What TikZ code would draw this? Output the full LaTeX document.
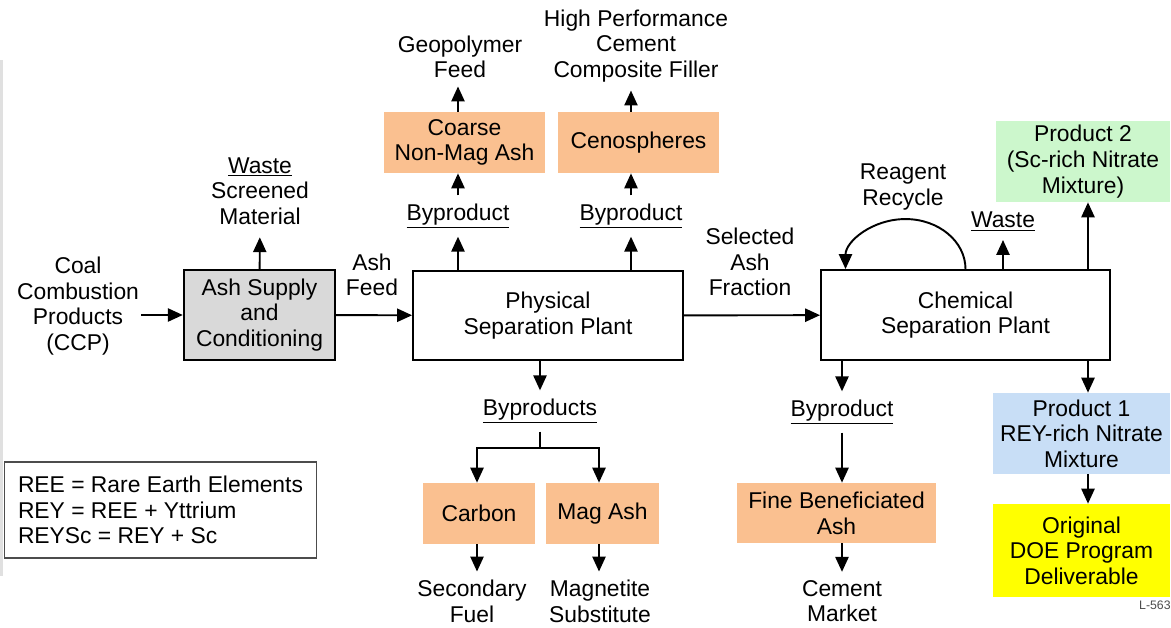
\documentclass[tikz,border=0pt]{standalone}
\usepackage{fontspec}
\setmainfont{Liberation Sans}
\usepackage{xcolor}
\usepackage{tikz}
\usetikzlibrary{positioning,arrows.meta}
\definecolor{ashgray}{HTML}{D9D9D9}
\definecolor{byorange}{HTML}{FAC090}
\definecolor{prodgreen}{HTML}{CCF7CC}
\definecolor{prodblue}{HTML}{C8DEF6}
\definecolor{delivyellow}{HTML}{FFFF00}

\begin{document}
\begin{tikzpicture}[x=0.02cm, y=-0.02cm,
    font=\fontsize{13}{14.6}\selectfont,
    plant/.style={rectangle, draw, line width=1.1pt, align=center, inner sep=0pt},
    ashbox/.style={plant, fill=ashgray, line width=1.4pt},
    byprod/.style={rectangle, fill=byorange, align=center, inner sep=0pt},
    prodtwo/.style={rectangle, fill=prodgreen, align=center, inner sep=0pt},
    prodone/.style={rectangle, fill=prodblue, align=center, inner sep=0pt},
    deliv/.style={rectangle, fill=delivyellow, align=center, inner sep=0pt},
    lbl/.style={align=center, inner xsep=1pt, inner ysep=4.5pt},
    legend/.style={rectangle, draw=black!70, line width=0.6pt, align=left, minimum width=6.26cm, minimum height=1.92cm},
    arrow/.style={line width=1.1pt, ->, >={Triangle[length=8.5pt,width=7.5pt]}}
]
\useasboundingbox (0,0) rectangle (1171,627);

% slide shadow at the left edge
\fill[black!12] (0,60) rectangle (3,576);

% Feed and ash supply
\node [lbl] (ccp) at (78,306) {Coal\\Combustion\\Products\\(CCP)};
\node [ashbox, minimum width=3.02cm, minimum height=1.8cm] (ash) at (259.5,315) {Ash Supply\\and\\Conditioning};
\node [lbl, inner ysep=7pt] (screened) at (260,191) {\underline{Waste}\\Screened\\Material};
\node [lbl] (ashfeed) at (372,275) {Ash\\Feed};

% Physical separation
\node [plant, minimum width=5.4cm, minimum height=1.78cm] (phys) at (548,315.5) {Physical\\Separation Plant};
\node [lbl] (bypa) at (458,216) {\underline{Byproduct}};
\node [lbl] (bypb) at (631,216) {\underline{Byproduct}};
\node [byprod, minimum width=3.22cm, minimum height=1.22cm] (coarse) at (464.5,142.5) {Coarse\\Non-Mag Ash};
\node [byprod, minimum width=3.22cm, minimum height=1.22cm] (ceno) at (638.5,142.5) {Cenospheres};
\node [lbl] (geo) at (460,57) {Geopolymer\\Feed};
\node [lbl] (hpc) at (636,46) {High Performance\\Cement\\Composite Filler};

\node [lbl] (byps) at (540,411) {\underline{Byproducts}};
\coordinate (split) at (540,448);
\node [byprod, minimum width=2.24cm, minimum height=1.22cm] (carbon) at (479,513.5) {Carbon};
\node [byprod, minimum width=2.26cm, minimum height=1.22cm] (magash) at (602.5,513.5) {Mag Ash};
\node [lbl] (secfuel) at (472,601) {Secondary\\Fuel};
\node [lbl] (magsub) at (600,601) {Magnetite\\Substitute};

% Chemical separation
\node [lbl] (selected) at (750,262) {Selected\\Ash\\Fraction};
\node [plant, minimum width=5.78cm, minimum height=1.8cm] (chem) at (965.5,315) {Chemical\\Separation Plant};
\node [lbl] (reagent) at (903,187) {Reagent\\Recycle};
\node [lbl] (wastec) at (1003,222) {\underline{Waste}};
\coordinate (prodcol) at (1088,315);
\node [prodtwo, minimum width=3.48cm, minimum height=1.62cm] (prod2) at (1083,161.5) {Product 2\\(Sc-rich Nitrate\\Mixture)};
\node [prodone, minimum width=3.54cm, minimum height=1.62cm] (prod1) at (1081.5,433.5) {Product 1\\REY-rich Nitrate\\Mixture};
\node [deliv, minimum width=3.54cm, minimum height=1.86cm] (doe) at (1081.5,550.5) {Original\\DOE Program\\Deliverable};

\node [lbl] (bypc) at (842,412) {\underline{Byproduct}};
\node [byprod, minimum width=3.98cm, minimum height=1.2cm] (fine) at (836.5,513) {Fine Beneficiated\\Ash};
\node [lbl] (cement) at (842,601) {Cement\\Market};

% Legend
\node [legend] (abbr) at (160.5,510) {REE = Rare Earth Elements\\REY = REE + Yttrium\\REYSc = REY + Sc};
\node [anchor=east, inner sep=0pt, font=\fontsize{7}{8}\selectfont, text=black!70] (tag) at (1171,605) {L-563};

% Arrows
\draw [arrow] (ccp.east |- ash.west) -- (ash.west);
\draw [arrow] (ash) -- (screened);
\draw [arrow] (ash) -- (phys);

\draw [arrow] (phys.north -| bypa) -- (bypa);
\draw [arrow] (phys.north -| bypb) -- (bypb);
\draw [arrow] (bypa) -- (coarse.south -| bypa);
\draw [arrow] (bypb) -- (ceno.south -| bypb);
\draw [arrow] (coarse.north -| bypa) -- (geo.south -| bypa);
\draw [arrow] (ceno.north -| bypb) -- (hpc.south -| bypb);

\draw [arrow] (phys.south -| byps) -- (byps);
\draw [line width=1.1pt] (byps) -- (split);
\draw [arrow] (split) -| (carbon.north -| 477,0);
\draw [arrow] (split) -| (magash.north -| 599,0);
\draw [arrow] (carbon.south -| 477,0) -- (secfuel.north -| 477,0);
\draw [arrow] (magash.south -| 599,0) -- (magsub.north -| 599,0);

\draw [arrow] (phys) -- (chem);
\draw [arrow] (chem.north) arc [start angle=0, end angle=-180, x radius=60, y radius=50];
\draw [arrow] (chem.north -| wastec) -- (wastec);
\draw [arrow] (chem.north -| prodcol) -- (prod2.south -| prodcol);
\draw [arrow] (chem.south -| prodcol) -- (prod1.north -| prodcol);
\draw [arrow] (prod1.south -| prodcol) -- (doe.north -| prodcol);

\draw [arrow] (chem.south -| bypc) -- (bypc);
\draw [arrow] (bypc) -- (fine.north -| bypc);
\draw [arrow] (fine.south -| bypc) -- (cement);

\end{tikzpicture}
\end{document}
